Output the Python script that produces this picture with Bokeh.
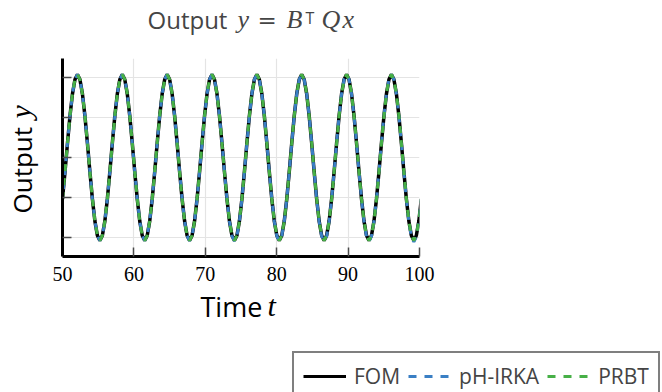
import math
from bokeh.plotting import figure
from bokeh.models import Range1d, FixedTicker, Label, Legend, LegendItem
from bokeh.embed import file_html
from bokeh.resources import INLINE

# ---------------- data ----------------
t_start = 50.0          # first sample time
t_step = 0.349          # sampling step of the curves
x_ticks = [50, 60, 70, 80, 90, 100]
y_ticks = [-1.0, -0.5, 0.0, 0.5, 1.0]
series_names = ["FOM", "pH-IRKA", "PRBT"]

fom = [
    -0.522, -0.181, 0.181, 0.522, 0.800, 0.981, 1.044, 0.981, 0.800, 0.522, 0.181, -0.181, -0.522, -0.800, -0.981, -1.044, -0.981, -0.800,
    -0.522, -0.181, 0.181, 0.522, 0.800, 0.981, 1.044, 0.981, 0.800, 0.522, 0.181, -0.181, -0.522, -0.800, -0.981, -1.044, -0.981, -0.800,
    -0.522, -0.181, 0.181, 0.522, 0.800, 0.981, 1.044, 0.981, 0.800, 0.522, 0.181, -0.181, -0.522, -0.800, -0.981, -1.044, -0.981, -0.800,
    -0.522, -0.181, 0.181, 0.522, 0.800, 0.981, 1.044, 0.981, 0.800, 0.522, 0.181, -0.181, -0.522, -0.800, -0.981, -1.044, -0.981, -0.800,
    -0.522, -0.181, 0.181, 0.522, 0.800, 0.981, 1.044, 0.981, 0.800, 0.522, 0.181, -0.181, -0.522, -0.800, -0.981, -1.044, -0.981, -0.800,
    -0.522, -0.181, 0.181, 0.522, 0.800, 0.981, 1.044, 0.981, 0.800, 0.522, 0.181, -0.181, -0.522, -0.800, -0.981, -1.044, -0.981, -0.800,
    -0.522, -0.181, 0.181, 0.522, 0.800, 0.981, 1.044, 0.981, 0.800, 0.522, 0.181, -0.181, -0.522, -0.800, -0.981, -1.044, -0.981, -0.800,
    -0.522, -0.181, 0.181, 0.522, 0.800, 0.981, 1.044, 0.981, 0.800, 0.522, 0.181, -0.181, -0.522, -0.800, -0.981, -1.044, -0.981, -0.800,
    -0.522,
]
ph_irka = [
    -0.522, -0.181, 0.181, 0.522, 0.800, 0.981, 1.044, 0.981, 0.800, 0.522, 0.181, -0.181, -0.522, -0.800, -0.981, -1.044, -0.981, -0.800,
    -0.522, -0.181, 0.181, 0.522, 0.800, 0.981, 1.044, 0.981, 0.800, 0.522, 0.181, -0.181, -0.522, -0.800, -0.981, -1.046, -0.981, -0.800,
    -0.522, -0.181, 0.181, 0.522, 0.800, 0.981, 1.044, 0.981, 0.800, 0.522, 0.181, -0.181, -0.522, -0.800, -0.983, -1.048, -0.983, -0.800,
    -0.522, -0.181, 0.181, 0.522, 0.800, 0.981, 1.044, 0.981, 0.800, 0.522, 0.181, -0.181, -0.522, -0.801, -0.985, -1.050, -0.985, -0.801,
    -0.522, -0.181, 0.181, 0.522, 0.800, 0.981, 1.044, 0.981, 0.800, 0.522, 0.181, -0.181, -0.523, -0.802, -0.987, -1.052, -0.987, -0.802,
    -0.523, -0.181, 0.181, 0.522, 0.800, 0.981, 1.044, 0.981, 0.800, 0.522, 0.181, -0.182, -0.524, -0.804, -0.990, -1.055, -0.990, -0.804,
    -0.524, -0.182, 0.181, 0.522, 0.800, 0.981, 1.044, 0.981, 0.800, 0.522, 0.181, -0.182, -0.525, -0.806, -0.993, -1.058, -0.993, -0.806,
    -0.525, -0.182, 0.181, 0.522, 0.800, 0.981, 1.044, 0.981, 0.800, 0.522, 0.181, -0.182, -0.526, -0.808, -0.996, -1.062, -0.996, -0.808,
    -0.526,
]
prbt = [
    -0.522, -0.181, 0.181, 0.522, 0.800, 0.981, 1.044, 0.981, 0.800, 0.522, 0.181, -0.181, -0.522, -0.800, -0.981, -1.044, -0.981, -0.800,
    -0.522, -0.181, 0.181, 0.522, 0.800, 0.981, 1.044, 0.981, 0.800, 0.522, 0.181, -0.181, -0.522, -0.800, -0.981, -1.044, -0.981, -0.800,
    -0.522, -0.181, 0.181, 0.522, 0.800, 0.981, 1.044, 0.981, 0.800, 0.522, 0.181, -0.181, -0.522, -0.800, -0.981, -1.044, -0.981, -0.800,
    -0.522, -0.181, 0.181, 0.522, 0.800, 0.981, 1.044, 0.981, 0.800, 0.522, 0.181, -0.181, -0.522, -0.800, -0.981, -1.044, -0.981, -0.800,
    -0.522, -0.181, 0.181, 0.522, 0.800, 0.981, 1.044, 0.981, 0.800, 0.522, 0.181, -0.181, -0.522, -0.800, -0.981, -1.044, -0.981, -0.800,
    -0.522, -0.181, 0.181, 0.522, 0.800, 0.981, 1.044, 0.981, 0.800, 0.522, 0.181, -0.181, -0.522, -0.800, -0.981, -1.044, -0.981, -0.800,
    -0.522, -0.181, 0.181, 0.522, 0.800, 0.981, 1.044, 0.981, 0.800, 0.522, 0.181, -0.181, -0.522, -0.800, -0.981, -1.044, -0.981, -0.800,
    -0.522, -0.181, 0.181, 0.522, 0.800, 0.981, 1.044, 0.981, 0.800, 0.522, 0.181, -0.181, -0.522, -0.800, -0.981, -1.044, -0.981, -0.800,
    -0.522,
]
# sampling grid of the time axis
time = [t_start + t_step * k for k in range(len(fom))]

colors = ["black", "#3a7fc4", "#47b047"]
W, H = 662, 392

# ---------------- main figure ----------------
p = figure(width=W, height=H,
           x_range=Range1d(50, 100), y_range=Range1d(-1.245, 1.245),
           output_backend="svg", toolbar_location=None,
           min_border_left=62, min_border_right=243,
           min_border_top=58, min_border_bottom=136)
p.outline_line_color = None
p.background_fill_color = "white"
p.border_fill_color = "white"

p.xaxis.ticker = FixedTicker(ticks=x_ticks)
p.yaxis.ticker = FixedTicker(ticks=y_ticks)
p.xgrid.ticker = FixedTicker(ticks=x_ticks)
p.ygrid.ticker = FixedTicker(ticks=y_ticks)
p.grid.grid_line_color = "#e4e4e4"
p.grid.grid_line_width = 1.2

for ax in (p.xaxis, p.yaxis):
    ax.axis_line_color = "black"
    ax.axis_line_width = 3
    ax.major_tick_in = 9
    ax.major_tick_out = 0
    ax.major_tick_line_color = "#4a4a4a"
    ax.major_tick_line_width = 1.5
    ax.minor_tick_line_color = None

p.xaxis.major_label_text_font = "Liberation Serif"
p.xaxis.major_label_text_font_size = "20px"
p.xaxis.major_label_text_color = "black"
p.xaxis.major_label_standoff = 10
p.yaxis.major_label_overrides = {v: "" for v in y_ticks}

style = [dict(line_width=3.5),
         dict(line_width=3, line_dash="7 7", line_dash_offset=4),
         dict(line_width=3, line_dash="7 7")]
p.line(time, fom, line_color=colors[0], **style[0])
p.line(time, ph_irka, line_color=colors[1], **style[1])
p.line(time, prbt, line_color=colors[2], **style[2])

# ---------------- transparent overlay for texts outside the frame ----------------
o = figure(width=W, height=H, x_range=Range1d(0, W), y_range=Range1d(0, H),
           x_axis_type=None, y_axis_type=None, min_border=0,
           output_backend="svg", toolbar_location=None)
o.outline_line_color = None
o.background_fill_alpha = 0
o.border_fill_alpha = 0
o.xgrid.visible = False
o.ygrid.visible = False
o.styles = {"position": "absolute", "left": "0px", "top": "0px"}

# legend proxies: no visible data of their own, only the styles of the three lines
nan = float("nan")
legend_style = [dict(line_width=3),
                dict(line_width=3, line_dash="8 8"),
                dict(line_width=3, line_dash="8 8")]
proxies = [o.line(x=[nan], y=[nan], line_color=c, **s) for c, s in zip(colors, legend_style)]
legend = Legend(items=[LegendItem(label=n, renderers=[r]) for n, r in zip(series_names, proxies)],
                orientation="horizontal", location=(292, -9),
                border_line_color="black", border_line_width=2,
                background_fill_color="white", background_fill_alpha=1,
                label_text_font="Open Sans", label_text_font_size="21px",
                glyph_width=43, glyph_height=20, label_standoff=8,
                spacing=8, padding=9, margin=0)
o.add_layout(legend, "center")


def lab(text, x, y, font, size, color="black", fstyle="normal", rotated=False):
    # x, y: left end of the baseline in page pixels (y downward)
    shift = 0.4 * size
    if rotated:
        x, y, angle = x - shift, y, math.pi / 2
    else:
        x, y, angle = x, y - shift, 0.0
    o.add_layout(Label(text=text, x=x, y=H - y, x_units="screen", y_units="screen",
                       text_font=font, text_font_size=f"{size}px", text_color=color,
                       text_font_style=fstyle, text_baseline="alphabetic",
                       text_align="left", angle=angle))

gray = "#454545"
# title: Output y = B^T Q x
lab("Output", 147, 29, "Open Sans", 24, gray)
lab("y", 237, 29, "Liberation Serif", 26, gray, "italic")
lab("=", 257, 29, "DejaVu Serif", 23, gray)
lab("B", 286, 29, "Liberation Serif", 26, gray, "italic")
lab("T", 305, 24, "Open Sans", 16, gray)
lab("Q", 321, 29, "Liberation Serif", 26, gray, "italic")
lab("x", 342, 29, "Liberation Serif", 26, gray, "italic")
# x label: Time t
lab("Time", 200, 317, "Open Sans", 27)
lab("t", 267, 317, "Liberation Serif", 30, "black", "italic")
# y label: Output y
lab("Output", 31.5, 213, "Open Sans", 26, rotated=True)
lab("y", 31.5, 118, "Liberation Serif", 30, "black", "italic", rotated=True)

open("out.html", "w").write(file_html([p, o], INLINE))
